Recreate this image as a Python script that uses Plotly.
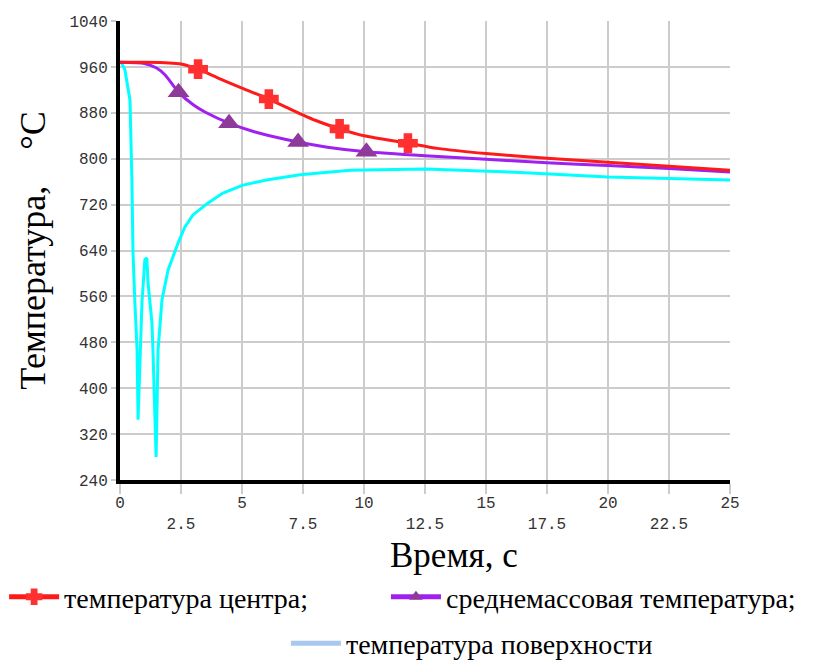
import plotly.graph_objects as go

# ---------------- data ----------------
center_t = [0, 1, 2, 2.5, 3.2, 4, 5, 6.1, 7, 8, 9.0, 10, 11.8, 13, 15, 17.5, 20, 22.5, 25]
center_v = [968, 968, 967, 965, 956, 941, 923, 904, 886, 867, 852, 840, 827, 818, 809, 801, 794, 787, 780]
center_marker_t = [3.2, 6.1, 9.0, 11.8]

mass_t = [0, 1, 1.5, 1.85, 2.4, 3, 3.5, 4.47, 5.5, 7.3, 8.5, 10.1, 12.5, 15, 17.5, 20, 22.5, 25]
mass_v = [968, 966, 958, 946, 916, 894, 881, 862, 847, 829, 820, 812, 805, 799, 793, 788, 783, 777]
mass_marker_t = [2.4, 4.47, 7.3, 10.1]

surf_t = [0, 0.08, 0.2, 0.33, 0.41, 0.49, 0.53, 0.61, 0.70, 0.74, 0.90, 1.02, 1.10, 1.15, 1.31,
          1.35, 1.48, 1.56, 1.72, 1.97, 2.38, 2.66, 2.99, 3.61, 4.22, 5.04, 6.0, 7.38, 9.43,
          12.5, 16.4, 20, 22, 25]
surf_v = [968, 966, 955, 925, 902, 758, 641, 549, 467, 345, 549, 624, 627, 583, 514,
          467, 280, 467, 554, 606, 653, 681, 702, 723, 740, 754, 763, 772, 780,
          782, 776, 768, 766, 763]

y_ticks = [240, 320, 400, 480, 560, 640, 720, 800, 880, 960, 1040]
x_ticks = [0, 2.5, 5, 7.5, 10, 12.5, 15, 17.5, 20, 22.5, 25]
x_tick_text = ["0", "2.5", "5", "7.5", "10", "12.5", "15", "17.5", "20", "22.5", "25"]

name_center = "температура центра;"
name_mass = "среднемассовая температура;"
name_surf = "температура поверхности"

# ---------------- figure ----------------
fig = go.Figure()

fig.add_trace(go.Scatter(
    x=surf_t, y=surf_v, mode="lines", name=name_surf, showlegend=False,
    line=dict(color="#00ffff", width=3),
))

fig.add_trace(go.Scatter(
    x=mass_t, y=mass_v, mode="lines+markers", name=name_mass, legend="legend2",
    line=dict(color="#a020f0", width=3, shape="spline", smoothing=0.6),
    marker=dict(symbol="triangle-up", opacity=1,
                size=[19 if t in mass_marker_t else 0 for t in mass_t],
                color="#8e3a9a", line=dict(width=0)),
))

fig.add_trace(go.Scatter(
    x=center_t, y=center_v, mode="lines+markers", name=name_center, legend="legend",
    line=dict(color="#ff1a1a", width=3, shape="spline", smoothing=0.6),
    marker=dict(symbol="cross", opacity=1,
                size=[14 if t in center_marker_t else 0 for t in center_t],
                color="#ff3030", line=dict(color="#ff3030", width=3)),
))

# legend entry for the surface curve (its own legend row)
fig.add_trace(go.Scatter(
    x=[None], y=[None], mode="lines", name=name_surf, legend="legend3",
    line=dict(color="#a8c8f0", width=5),
))

tick_font = dict(family="Liberation Mono", size=16, color="#333333")
legend_font = dict(family="Liberation Serif", size=28, color="black")

# the page body adds an 8px offset; margins are set so the plot lands at
# x 120..730, y 21..480 in the browser window
fig.update_layout(
    width=832, height=662,
    margin=dict(l=112, r=110, t=13, b=190, autoexpand=False),
    paper_bgcolor="white", plot_bgcolor="white",
    font=dict(family="Liberation Serif"),
    xaxis=dict(
        range=[0, 25], tickvals=x_ticks,
        ticktext=[t if i % 2 == 0 else "<br>" + t for i, t in enumerate(x_tick_text)],
        showgrid=True, gridcolor="#cccccc", gridwidth=2,
        ticks="outside", ticklen=10, tickwidth=2, tickcolor="#cccccc",
        ticklabelstandoff=-5,
        showline=True, linecolor="black", linewidth=4,
        tickfont=tick_font, zeroline=False,
    ),
    yaxis=dict(
        range=[240, 1040], tickvals=y_ticks,
        showgrid=True, gridcolor="#cccccc", gridwidth=2,
        ticks="outside", ticklen=5, tickwidth=2, tickcolor="#cccccc",
        showline=True, linecolor="black", linewidth=4,
        tickfont=tick_font, zeroline=False,
        title=dict(text="Температура,    °C",
                   font=dict(family="Liberation Serif", size=36, color="black"),
                   standoff=14),
    ),
    legend=dict(
        orientation="h", x=-0.19, xanchor="left", y=-0.2005, yanchor="top",
        font=legend_font, itemsizing="constant", itemwidth=50, bgcolor="rgba(0,0,0,0)",
    ),
    legend2=dict(
        orientation="h", x=0.436, xanchor="left", y=-0.2005, yanchor="top",
        font=legend_font, itemsizing="constant", itemwidth=50, bgcolor="rgba(0,0,0,0)",
    ),
    legend3=dict(
        orientation="h", x=0.272, xanchor="left", y=-0.302, yanchor="top",
        font=legend_font, itemwidth=50, bgcolor="rgba(0,0,0,0)",
    ),
    annotations=[dict(
        text="Время, с", xref="paper", yref="paper", x=0.5475, y=-0.1634,
        xanchor="center", yanchor="middle", showarrow=False,
        font=dict(family="Liberation Serif", size=35, color="black"),
    )],
)

fig.write_html("out.html")
